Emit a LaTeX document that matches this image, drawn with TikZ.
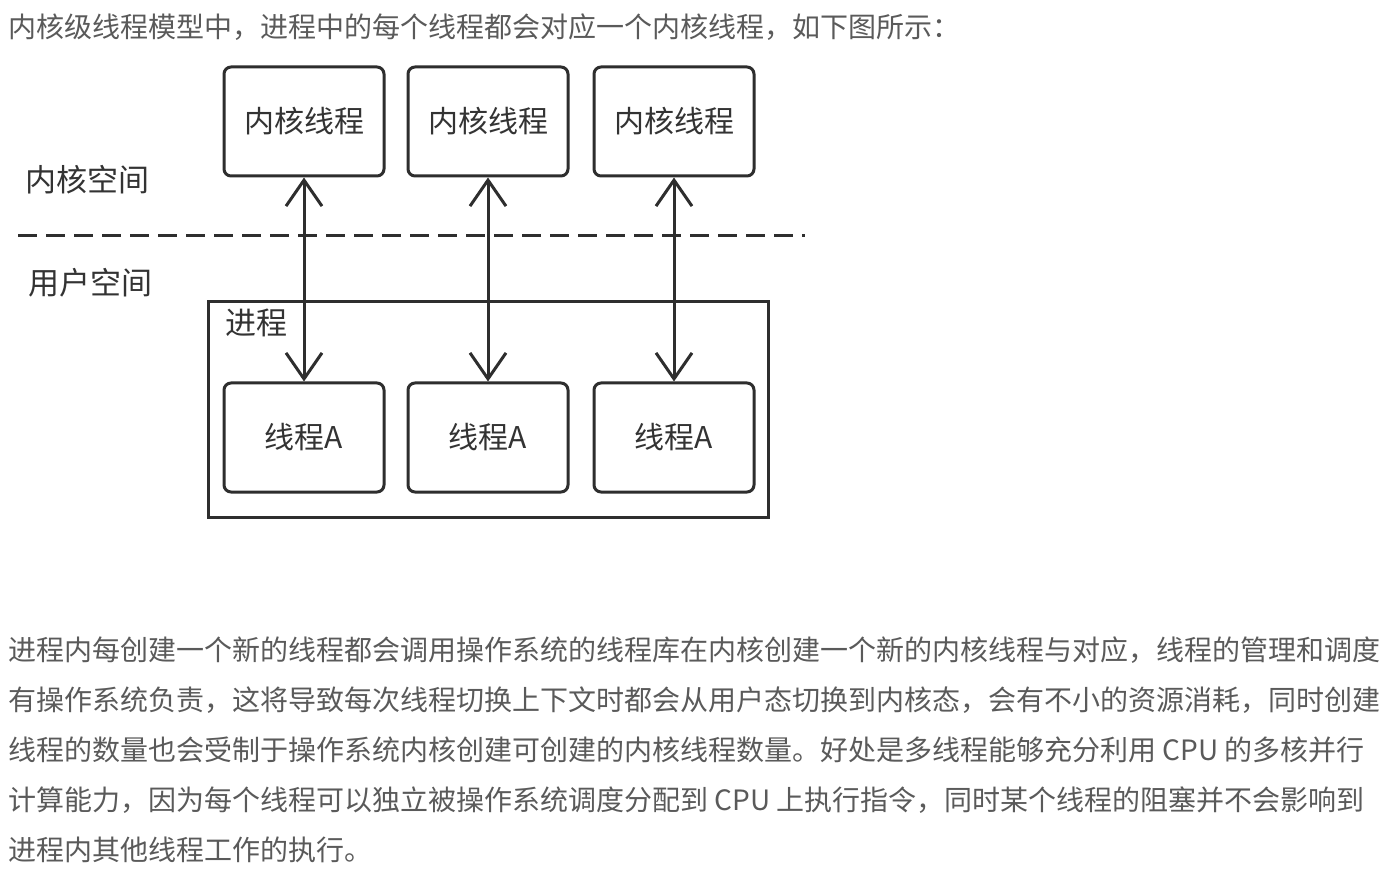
\documentclass[tikz,border=0pt]{standalone}
\usepackage{fontspec}
\setmainfont{Noto Sans CJK SC}
\usetikzlibrary{arrows.meta}
\definecolor{bodygray}{HTML}{5A5A5A}
\definecolor{inkgray}{HTML}{333333}
\definecolor{linegray}{HTML}{2E2E2E}
\begin{document}
\begin{tikzpicture}[x=1pt,y=-1pt,
  bodytext/.style={anchor=west,inner sep=0pt,text=bodygray,font=\fontsize{28pt}{33pt}\selectfont,text height=0.88em,text depth=0.12em},
  boxlabel/.style={draw=linegray,line width=3pt,rounded corners=7pt,minimum width=160pt,minimum height=109pt,inner sep=0pt,text=inkgray,font=\fontsize{30pt}{36pt}\selectfont},
  sidelabel/.style={anchor=west,inner sep=0pt,text=inkgray,font=\fontsize{31pt}{36pt}\selectfont,text height=0.88em,text depth=0.12em},
  procbox/.style={draw=linegray,line width=3pt,minimum width=560pt,minimum height=215pt,inner sep=0pt},
  biarrow/.style={draw=linegray,line width=3pt,{Straight Barb[length=26pt,width=36pt]}-{Straight Barb[length=26pt,width=36pt]}},
  sepline/.style={draw=linegray,line width=3pt,dash pattern=on 19pt off 9pt}]
\useasboundingbox[fill=white] (0,0) rectangle (1398,882);

% heading line
\node[bodytext] (head) at (8,34) {内核级线程模型中，进程中的每个线程都会对应一个内核线程，如下图所示：};

% kernel threads
\node[boxlabel] (k1) at (304,121.5) {内核线程};
\node[boxlabel] (k2) at (488,121.5) {内核线程};
\node[boxlabel] (k3) at (674,121.5) {内核线程};

% space labels and separator
\node[sidelabel] (kspace) at (25,188) {内核空间};
\node[sidelabel] (uspace) at (28,291) {用户空间};
\coordinate (sepL) at (18,236);
\coordinate (sepR) at (805,236);
\draw[sepline] (sepL) -- (sepR);

% process box
\node[procbox] (proc) at (488,409.5) {};
\node[sidelabel] (proclabel) at (225,331) {进程};

% user threads
\node[boxlabel] (t1) at (304,437.5) {线程A};
\node[boxlabel] (t2) at (488,437.5) {线程A};
\node[boxlabel] (t3) at (674,437.5) {线程A};

% connectors
\draw[biarrow] (k1.south) -- (t1.north);
\draw[biarrow] (k2.south) -- (t2.north);
\draw[biarrow] (k3.south) -- (t3.north);

% body paragraph
\node[bodytext] (p1) at (8,657) {进程内每创建一个新的线程都会调用操作系统的线程库在内核创建一个新的内核线程与对应，线程的管理和调度};
\node[bodytext] (p2) at (8,707) {有操作系统负责，这将导致每次线程切换上下文时都会从用户态切换到内核态，会有不小的资源消耗，同时创建};
\node[bodytext] (p3) at (8,757) {线程的数量也会受制于操作系统内核创建可创建的内核线程数量。好处是多线程能够充分利用 CPU 的多核并行};
\node[bodytext] (p4) at (8,807) {计算能力，因为每个线程可以独立被操作系统调度分配到 CPU 上执行指令，同时某个线程的阻塞并不会影响到};
\node[bodytext] (p5) at (8,857) {进程内其他线程工作的执行。};
\end{tikzpicture}
\end{document}
